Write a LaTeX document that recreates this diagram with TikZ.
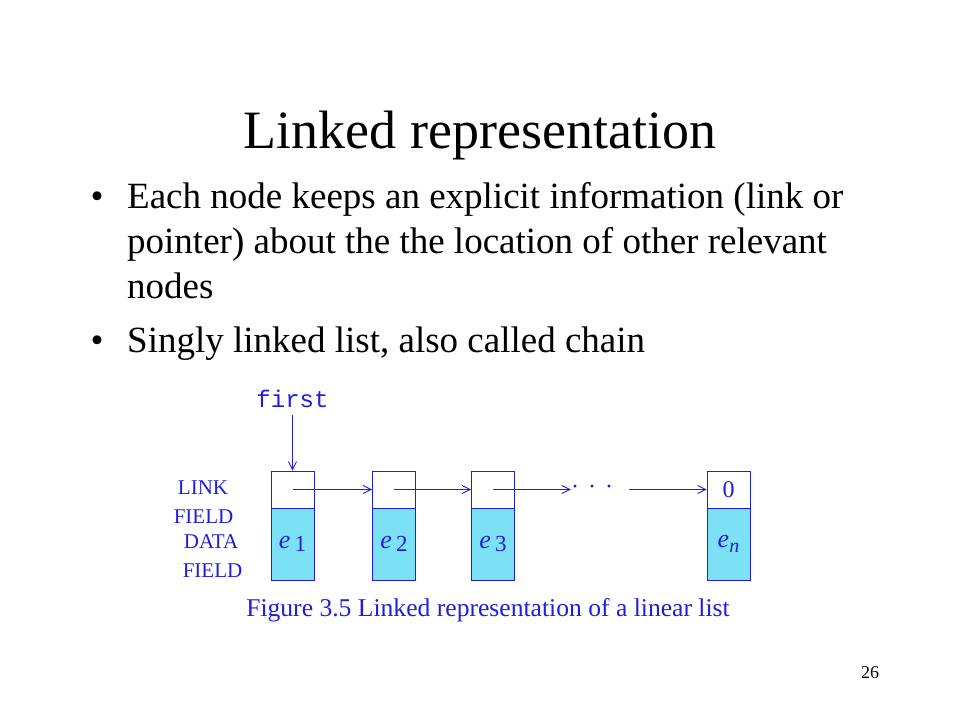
\documentclass[tikz,border=0pt]{standalone}
\usepackage{fontspec}
\setmainfont{Liberation Serif}
\setmonofont{Liberation Mono}
\usetikzlibrary{arrows.meta}

\definecolor{figblue}{RGB}{30,30,225}
\definecolor{figcyan}{RGB}{125,225,245}

\newcommand{\cellval}[1]{{\itshape e}\,\raisebox{-3pt}{\fontsize{23}{23}\selectfont #1}}

\tikzset{
	linkcell/.style={draw=figblue, line width=0.9pt, minimum width=43pt, minimum height=37pt, inner sep=0pt, text=figblue, font=\fontsize{24}{24}\selectfont},
	datacell/.style={draw=figblue, line width=0.9pt, fill=figcyan, minimum width=43pt, minimum height=72pt, inner sep=0pt, text=figblue, font=\fontsize{26}{26}\selectfont},
	ptr/.style={figblue, line width=0.9pt, -{Straight Barb[length=8pt,width=8pt]}},
	fieldlabel/.style={text=figblue, inner sep=0pt, font=\fontsize{21}{21}\selectfont}
}

\begin{document}
\begin{tikzpicture}[x=1pt,y=-1pt]
	
	\useasboundingbox (0,0) rectangle (960,720);
	
	% Titulo
	\node[anchor=base, inner sep=0pt, font=\fontsize{54}{60}\selectfont] (title) at (480,148) {Linked representation};
	
	% Puntos
	\node[anchor=base, inner sep=0pt, font=\fontsize{37}{45}\selectfont] (bulletA) at (97,208) {•};
	\node[anchor=base west, inner sep=0pt, align=left, font=\fontsize{37}{45}\selectfont] (textA) at (127,298)
	{
		Each node keeps an explicit information (link or \\
		pointer) about the the location of other relevant \\
		nodes
	};
	
	\node[anchor=base, inner sep=0pt, font=\fontsize{37}{45}\selectfont] (bulletB) at (97,352) {•};
	\node[anchor=base west, inner sep=0pt, font=\fontsize{37}{45}\selectfont] (textB) at (127,352)
	{Singly linked list, also called chain};
	
	% Etiquetas de campos
	\node[fieldlabel] (linkA) at (203,488) {LINK};
	\node[fieldlabel] (linkB) at (203.5,517) {FIELD};
	\node[fieldlabel] (dataA) at (211,542) {DATA};
	\node[fieldlabel] (dataB) at (212.5,571) {FIELD};
	
	% Nodos de la lista
	\node[linkcell] (l1) at (292.5,489.5) {};
	\node[datacell] (d1) at (292.5,544) {\cellval{1}};
	
	\node[linkcell] (l2) at (394,489.5) {};
	\node[datacell] (d2) at (394,544) {\cellval{2}};
	
	\node[linkcell] (l3) at (493,489.5) {};
	\node[datacell] (d3) at (493,544) {\cellval{3}};
	
	\node[linkcell] (ln) at (728.5,489.5) {0};
	\node[datacell] (dn) at (728.5,544) {{\itshape e}\raisebox{-5pt}{\fontsize{20}{20}\selectfont\itshape n}};
	
	% Puntero first
	\node[inner sep=0pt, text=figblue, font=\ttfamily\fontsize{24}{24}\selectfont] (first) at (292.5,399) {first};
	\draw[ptr] ([yshift=-7pt]first.south) -- (l1.north);
	
	% Flechas
	\node[anchor=base, inner sep=0pt, text=figblue, font=\fontsize{24}{24}\selectfont] (dots) at (592,494)
	{·\hspace{9pt}·\hspace{9pt}·};
	\coordinate (resume) at (629,489.5);
	
	\draw[ptr] (l1.center) -- (l2.west);
	\draw[ptr] (l2.center) -- (l3.west);
	\draw[ptr] (l3.center) -- (dots.west |- l3.center);
	\draw[ptr] (resume) -- (ln.west);
	
	% Leyenda
	\node[inner sep=0pt, text=figblue, font=\fontsize{25.6}{26}\selectfont] (caption) at (488,610)
	{Figure 3.5 Linked representation of a linear list};
	
	% Numero de pagina
	\node[inner sep=0pt, font=\fontsize{18}{18}\selectfont] (page) at (870,673) {26};
	
\end{tikzpicture}
\end{document}
